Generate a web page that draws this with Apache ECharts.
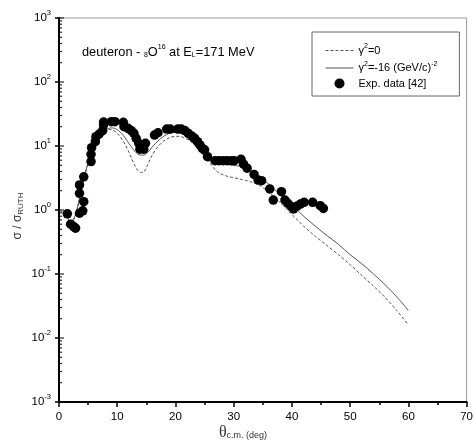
<!DOCTYPE html>
<html>
<head>
<meta charset="utf-8">
<script src="https://cdn.jsdelivr.net/npm/echarts@6/dist/echarts.min.js"></script>
<style>
html,body{margin:0;padding:0;background:#fff;}
#chart{width:476px;height:443px;}
</style>
</head>
<body>
<div id="chart"></div>
<script>
// ---- Data ----
const expTheta = [1.43, 2.0, 2.5, 2.84, 3.52, 4.08, 4.25, 3.52, 3.52, 4.25, 5.5, 5.5, 5.6, 6.24, 6.35, 6.9, 7.5, 7.65, 7.65, 9.0, 9.6, 11.05, 11.16, 11.85, 12.4, 12.87, 13.25, 13.7, 13.9, 14.0, 14.56, 14.85, 16.4, 17.0, 18.5, 19.1, 20.4, 21.0, 21.6, 22.2, 22.8, 23.3, 23.8, 24.2, 24.6, 25.0, 25.5, 26.8, 27.5, 28.2, 28.9, 29.6, 30.1, 31.26, 31.7, 32.3, 33.5, 34.2, 34.8, 36.2, 36.8, 38.2, 38.8, 39.3, 39.9, 40.3, 40.9, 41.45, 42.1, 43.56, 44.85, 45.4];
const expRatio = [0.87, 0.60, 0.55, 0.52, 0.89, 0.97, 1.35, 1.82, 2.46, 3.3, 5.7, 7.4, 9.4, 11.7, 14.0, 15.4, 17.4, 21.3, 23.7, 24.0, 24.0, 23.4, 20.0, 18.9, 17.4, 15.8, 13.2, 11.0, 8.9, 9.2, 8.9, 11.0, 14.8, 16.1, 18.4, 18.4, 18.4, 18.4, 17.4, 15.8, 14.3, 13.2, 11.7, 10.4, 9.2, 8.7, 6.8, 5.9, 5.9, 5.9, 5.9, 5.9, 5.9, 6.2, 5.2, 4.5, 3.6, 2.94, 2.87, 2.13, 1.43, 1.93, 1.43, 1.27, 1.13, 1.04, 1.15, 1.24, 1.32, 1.32, 1.17, 1.06];

const curveTheta = [0, 0.8, 1.5, 2.0, 2.5, 3.0, 3.5, 4.0, 4.5, 5.0, 5.5, 6.0, 6.5, 7.0, 7.5, 8.0, 8.5, 9.0, 9.5, 10.0, 10.5, 11.0, 11.5, 12.0, 12.5, 13.0, 13.5, 14.0, 14.5, 15.0, 15.5, 16.0, 17.0, 18.0, 19.0, 20.0, 21.0, 22.0, 23.0, 24.0, 25.0, 26.0, 27.0, 28.0, 29.0, 30.0, 31.0, 32.0, 33.0, 34.0, 35.0, 36.0, 37.0, 38.0, 39.0, 40.0, 41.0, 42.0, 44.0, 46.0, 48.0, 50.0, 52.0, 54.0, 56.0, 58.0, 60.0];
// gamma^2 = -16 (GeV/c)^-2 (solid)
const solidRatio = [1.0, 0.9, 0.74, 0.66, 0.72, 0.95, 1.5, 2.4, 3.8, 5.5, 7.5, 9.8, 12.0, 14.2, 16.2, 17.8, 18.8, 19.2, 18.9, 18.0, 16.6, 14.8, 12.8, 11.0, 9.5, 8.3, 7.5, 7.2, 7.2, 7.6, 8.4, 9.6, 12.0, 14.2, 15.8, 16.4, 15.8, 13.8, 11.2, 8.8, 6.9, 5.9, 5.5, 5.3, 5.15, 5.0, 4.85, 4.6, 4.1, 3.5, 3.0, 2.55, 2.1, 1.75, 1.45, 1.2, 0.98, 0.8, 0.56, 0.40, 0.29, 0.20, 0.145, 0.10, 0.068, 0.044, 0.027];
// gamma^2 = 0 (dashed)
const dashRatio = [1.0, 0.9, 0.74, 0.65, 0.70, 0.92, 1.45, 2.3, 3.6, 5.3, 7.3, 9.5, 11.7, 14.0, 16.0, 17.5, 18.2, 18.0, 17.2, 15.8, 14.0, 12.0, 10.0, 8.0, 6.3, 5.0, 4.2, 3.85, 3.9, 4.6, 5.8, 7.2, 9.8, 12.0, 13.5, 14.2, 14.0, 12.8, 11.0, 9.0, 7.2, 5.3, 4.1, 3.6, 3.35, 3.2, 3.05, 2.9, 2.75, 2.55, 2.25, 1.9, 1.6, 1.3, 1.05, 0.85, 0.69, 0.56, 0.39, 0.28, 0.20, 0.14, 0.095, 0.065, 0.043, 0.027, 0.016];

const xTicks = [0, 10, 20, 30, 40, 50, 60, 70];
const yDecades = [0.001, 0.01, 0.1, 1, 10, 100, 1000];
const yMinorMultipliers = [2, 3, 4, 5, 6, 7, 8, 9];

const seriesNames = ['γ²=0', 'γ²=-16 (GeV/c)⁻²', 'Exp. data [42]'];
const legendRich = {
  'γ²=0': '{g|γ}{sp|2}{n|=0}',
  'γ²=-16 (GeV/c)⁻²': '{g|γ}{sp|2}{n|=-16 (GeV/c)}{sp|-2}',
  'Exp. data [42]': '{n|Exp. data [42]}'
};

// ---- Build ----
const FONT = '"Liberation Sans", Arial, sans-serif';
const zip = (a, b) => a.map((v, i) => [v, b[i]]);

const minorTickValues = [];
yDecades.slice(0, -1).forEach(d => yMinorMultipliers.forEach(m => minorTickValues.push([0, d * m, 3])));
yDecades.forEach(d => minorTickValues.push([0, d, 5]));

const chart = echarts.init(document.getElementById('chart'), null, {renderer: 'canvas'});
chart.setOption({
  animation: false,
  backgroundColor: '#fff',
  grid: {left: 59, right: 5, top: 18, bottom: 41, show: true, borderColor: '#9a9a9a', borderWidth: 1},
  xAxis: {
    type: 'value', min: 0, max: 70, interval: 10,
    axisLine: {show: true, onZero: false, lineStyle: {color: '#000', width: 2}},
    axisTick: {show: true, inside: false, length: 5, lineStyle: {color: '#000', width: 1.5}},
    minorTick: {show: true, splitNumber: 2, length: 3, lineStyle: {color: '#000', width: 1.5}},
    splitLine: {show: false},
    axisLabel: {color: '#000', fontSize: 11.5, fontFamily: FONT, margin: 9}
  },
  yAxis: {
    type: 'log', logBase: 10, min: 0.001, max: 1000,
    axisLine: {show: true, onZero: false, lineStyle: {color: '#000', width: 2}},
    axisTick: {show: true, inside: false, length: 4, lineStyle: {color: '#000', width: 1.5}},
    splitLine: {show: false},
    axisLabel: {
      margin: 8,
      formatter: function (v) {
        const e = Math.round(Math.log10(v));
        return '{b|10}{s|' + e + '}';
      },
      rich: {
        b: {fontSize: 11.5, fontFamily: FONT, color: '#000'},
        s: {fontSize: 7.5, fontFamily: FONT, color: '#000', padding: [0, 0, 10, 0]}
      }
    }
  },
  legend: {
    show: true, orient: 'vertical', left: 312, top: 32,
    padding: [11, 22, 7, 13], itemGap: 2.5, itemWidth: 28, itemHeight: 10,
    borderColor: '#666', borderWidth: 1,
    data: [
      {name: seriesNames[0], itemStyle: {opacity: 0}, lineStyle: {width: 1, type: [3, 2], color: '#555'}},
      {name: seriesNames[1], itemStyle: {opacity: 0}, lineStyle: {width: 1, type: 'solid', color: '#555'}},
      {name: seriesNames[2], itemStyle: {color: '#000', opacity: 1}}
    ],
    formatter: name => legendRich[name],
    textStyle: {
      color: '#000', fontFamily: FONT, fontSize: 11,
      rich: {
        n: {fontSize: 11, fontFamily: FONT, color: '#000', lineHeight: 14},
        g: {fontSize: 11, fontFamily: FONT, color: '#000', lineHeight: 14},
        sp: {fontSize: 7, fontFamily: FONT, color: '#000', lineHeight: 14, padding: [0, 0, 8, 0]}
      }
    }
  },
  graphic: [
    {
      type: 'text', left: 82, top: 44, silent: true,
      style: {
        text: '{n|deuteron - }{sb|8}{n|O}{sp|16}{n| at E}{sb|L}{n|=171 MeV}',
        rich: {
          n: {fontSize: 12.8, fontFamily: FONT, fill: '#000', lineHeight: 18},
          sb: {fontSize: 7, fontFamily: FONT, fill: '#000', lineHeight: 18, padding: [7, 0, 0, 0]},
          sp: {fontSize: 7, fontFamily: FONT, fill: '#000', lineHeight: 18, padding: [0, 0, 9, 0]}
        }
      }
    },
    {
      type: 'text', x: 18, y: 216, rotation: Math.PI / 2, silent: true,
      style: {
        text: '{n|σ / σ}{sb|RUTH}',
        align: 'center', verticalAlign: 'middle',
        rich: {
          n: {fontSize: 12, fontFamily: FONT, fill: '#333', lineHeight: 16},
          sb: {fontSize: 8, fontFamily: FONT, fill: '#333', lineHeight: 16, padding: [6, 0, 0, 0]}
        }
      }
    },
    {
      type: 'text', x: 243, y: 433, silent: true,
      style: {
        text: '{t|θ}{sb|c.m. (deg)}',
        align: 'center', verticalAlign: 'middle',
        rich: {
          t: {fontSize: 16, fontFamily: '"Liberation Serif", "Times New Roman", serif', fill: '#333', lineHeight: 18},
          sb: {fontSize: 9, fontFamily: FONT, fill: '#333', lineHeight: 18, padding: [6, 0, 0, 0]}
        }
      }
    }
  ],
  series: [
    {
      name: seriesNames[0], type: 'line', data: zip(curveTheta, dashRatio),
      symbol: 'none', smooth: 0.3, z: 3,
      lineStyle: {color: '#555', width: 1, type: [3, 2]},
      itemStyle: {color: '#555'}
    },
    {
      name: seriesNames[1], type: 'line', data: zip(curveTheta, solidRatio),
      symbol: 'none', smooth: 0.3, z: 3,
      lineStyle: {color: '#555', width: 1, type: 'solid'},
      itemStyle: {color: '#555'}
    },
    {
      name: seriesNames[2], type: 'scatter', data: zip(expTheta, expRatio),
      symbol: 'circle', symbolSize: 9.5, z: 4,
      itemStyle: {color: '#000', opacity: 1}
    },
    {
      name: 'yMinorTicks', type: 'custom', data: minorTickValues, clip: false, silent: true, z: 5,
      renderItem: function (params, api) {
        const p = api.coord([api.value(0), api.value(1)]);
        const len = api.value(2);
        return {type: 'line', shape: {x1: p[0], y1: p[1], x2: p[0] + len, y2: p[1]}, style: {stroke: '#000', lineWidth: 1}};
      }
    }
  ]
});
</script>
</body>
</html>
